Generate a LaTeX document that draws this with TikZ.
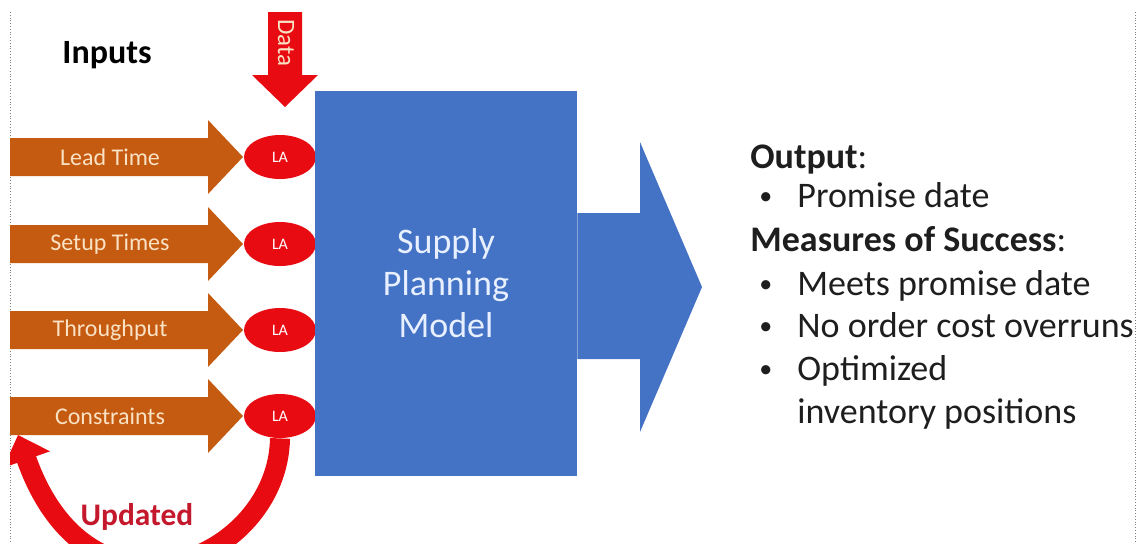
\documentclass[tikz,border=0pt]{standalone}
\usepackage{fontspec}
\setmainfont{Carlito}
\usetikzlibrary{shapes.geometric, arrows.meta}

\definecolor{rust}{RGB}{197,90,17}
\definecolor{cream}{RGB}{250,226,196}
\definecolor{laRed}{RGB}{232,12,18}
\definecolor{modelBlue}{RGB}{68,114,196}
\definecolor{darkRed}{RGB}{196,24,44}

\tikzset{
  la/.style={ellipse, fill=laRed, text=white, minimum width=36pt, minimum height=22pt,
    inner sep=0pt, font=\fontsize{8}{9}\selectfont},
  model/.style={fill=modelBlue, minimum width=131pt, minimum height=192.5pt, inner sep=0pt,
    text={rgb,255:red,232;green,240;blue,255}, align=center, font=\fontsize{18}{21}\selectfont},
  outtext/.style={anchor=base west, inner sep=0pt, text={rgb,255:red,30;green,30;blue,30},
    font=\fontsize{18}{21}\selectfont}
}

\begin{document}
\begin{tikzpicture}[x=0.5pt, y=-0.5pt]
		\useasboundingbox (0,0) rectangle (1139,543);
		% page edges
		\draw[gray, densely dotted] (10,12) -- (10,543);
		\draw[gray, densely dotted] (1135,12) -- (1135,543);
		\node[font=\bfseries\fontsize{17}{20}\selectfont] (inputs) at (107,55) {Inputs};
		% data arrow from the top
		\fill[laRed] (268,12) -- (302,12) -- (302,75) -- (318,75) -- (285,107) -- (252,75) -- (268,75) -- cycle;
		\node[rotate=-90, text=cream, font=\fontsize{12.5}{14}\selectfont] (data) at (286,43) {Data};
		% input arrows and LA
		\foreach \y/\txt/\nm in {157/Lead Time/lead, 244/Setup Times/setup, 330/Throughput/thru, 416/Constraints/cons}
		{
			\fill[rust] (10,\y-19) -- (208,\y-19) -- (208,\y-37) -- (243,\y) -- (208,\y+37) -- (208,\y+19) -- (10,\y+19) -- cycle;
			\node[text=cream, font=\fontsize{12}{14}\selectfont] (\nm) at (110,\y) {\txt};
			\node[la] (la-\nm) at (280,\y) {LA};
		}
		% model and output arrow
		\node[model] (model) at (446,283.5) {Supply\\Planning\\Model};
		\fill[modelBlue] (model.east |- 0,213) -- (640,213) -- (640,142) -- (702,287) -- (640,432) -- (640,359) -- (model.east |- 0,359) -- cycle;
		% updated loop
		\begin{scope}
			\clip (10,12) rectangle (1139,543);
			\draw[laRed, line width=10pt, -{Triangle[length=13pt, width=24pt]}]
				(la-cons.south) .. controls (278,560) and (90,640) .. (18,435);
		\end{scope}
		\node[font=\bfseries\fontsize{15.7}{18}\selectfont, text=darkRed] (updated) at (137,517) {Updated};
		% output text
		\node[outtext] (out) at (750,168) {\textbf{Output}:};
		\node[outtext] (meas) at (750,251) {\textbf{Measures of Success}:};
		\foreach \y/\txt/\nm in {207/Promise date/o1, 295/Meets promise date/m1, 337/No order cost overruns/m2, 380/Optimized/m3}
		{
			\node[outtext, font=\fontsize{13}{15}\selectfont] at (759,\y-3) {\textbullet};
			\node[outtext] (\nm) at (797,\y) {\txt};
		}
		\node[outtext] (m3b) at (797,423) {inventory positions};
	\end{tikzpicture}
\end{document}
